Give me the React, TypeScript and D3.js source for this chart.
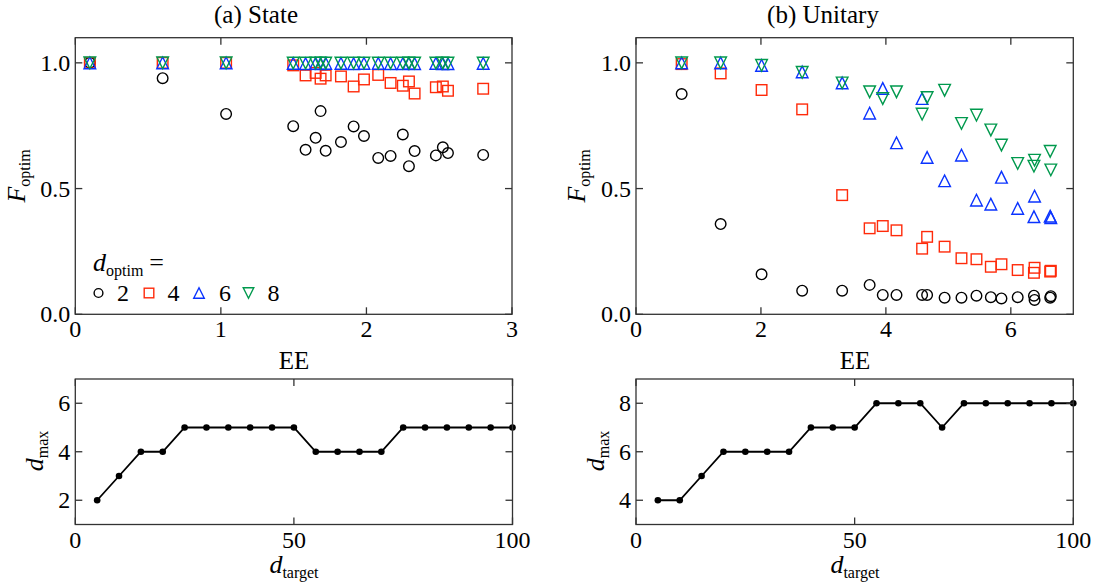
import React from "react";
import * as d3 from "d3";

// (a) State: EE values and optimised fidelity per d_optim
const stateEE = [0.1, 0.6, 1.036, 1.497, 1.582, 1.651, 1.685, 1.72, 1.825, 1.912, 1.983, 2.081, 2.166, 2.25, 2.292, 2.331, 2.477, 2.525, 2.56, 2.802];
const stateF2 = [1.0, 0.939, 0.797, 0.748, 0.654, 0.702, 0.808, 0.65, 0.685, 0.747, 0.709, 0.622, 0.63, 0.715, 0.589, 0.649, 0.632, 0.664, 0.641, 0.634];
const stateF4 = [1.0, 1.0, 1.0, 0.99, 0.95, 0.96, 0.937, 0.95, 0.946, 0.906, 0.934, 0.952, 0.92, 0.909, 0.926, 0.878, 0.903, 0.906, 0.889, 0.897];
const stateF6 = [1.0, 1.0, 1.0, 0.998, 0.997, 0.998, 0.997, 0.998, 0.998, 0.997, 0.998, 0.998, 0.997, 0.997, 0.998, 0.997, 0.998, 0.997, 0.997, 0.998];
const stateF8 = [1.0, 1.0, 1.0, 0.999, 0.999, 0.999, 0.999, 0.999, 0.999, 0.999, 0.999, 0.999, 0.999, 0.999, 0.999, 0.999, 0.999, 0.999, 0.999, 0.999];

// (b) Unitary
const unitEE = [0.731, 1.355, 2.01, 2.66, 3.3, 3.74, 3.95, 4.17, 4.58, 4.66, 4.94, 5.21, 5.45, 5.68, 5.85, 6.11, 6.37, 6.38, 6.63, 6.64];
const unitF2 = [0.876, 0.359, 0.159, 0.094, 0.094, 0.117, 0.077, 0.077, 0.077, 0.077, 0.066, 0.066, 0.074, 0.068, 0.063, 0.068, 0.074, 0.057, 0.066, 0.072];
const unitF4 = [0.995, 0.958, 0.892, 0.815, 0.474, 0.342, 0.351, 0.334, 0.261, 0.308, 0.269, 0.223, 0.219, 0.189, 0.199, 0.176, 0.165, 0.185, 0.17, 0.173];
const unitF6 = [1.0, 1.0, 0.99, 0.964, 0.92, 0.8, 0.898, 0.682, 0.858, 0.624, 0.531, 0.633, 0.454, 0.438, 0.545, 0.421, 0.388, 0.47, 0.39, 0.384];
const unitF8 = [1.0, 1.0, 0.99, 0.962, 0.92, 0.885, 0.858, 0.885, 0.796, 0.862, 0.891, 0.759, 0.792, 0.733, 0.673, 0.6, 0.589, 0.613, 0.648, 0.574];

// bottom row: d_max vs d_target
const dTarget = [5, 10, 15, 20, 25, 30, 35, 40, 45, 50, 55, 60, 65, 70, 75, 80, 85, 90, 95, 100];
const dMaxState = [2, 3, 4, 4, 5, 5, 5, 5, 5, 5, 4, 4, 4, 4, 5, 5, 5, 5, 5, 5];
const dMaxUnit = [4, 4, 5, 6, 6, 6, 6, 7, 7, 7, 8, 8, 8, 7, 8, 8, 8, 8, 8, 8];

const dOptim = ["2", "4", "6", "8"];
const colors = ["#000000", "#ff2a0a", "#0a33ff", "#00994d"];
const shapes = ["circle", "square", "up", "down"];

// no serif face in the sandbox, this falls back to whatever is there
const FONT = "'Liberation Serif', 'DejaVu Serif', Times, serif";
const AX = "#333";

function Marker({ shape, cx, cy, color, s = 5.3 }: any) {
  const common = { fill: "none", stroke: color, strokeWidth: 1.4 };
  if (shape === "circle") return <circle cx={cx} cy={cy} r={s} {...common} />;
  if (shape === "square") return <rect x={cx - s} y={cy - s} width={2 * s} height={2 * s} {...common} />;
  const t = s * 1.1;
  if (shape === "up")
    return <path d={`M${cx},${cy - t}L${cx + t},${cy + t}L${cx - t},${cy + t}Z`} {...common} />;
  return <path d={`M${cx},${cy + t}L${cx + t},${cy - t}L${cx - t},${cy - t}Z`} {...common} />;
}

function Frame({ x, y, xTicks, yTicks, yFmt }: any) {
  const [x0, x1] = x.range();
  const [y0, y1] = y.range();
  const tl = 7;
  return (
    <g>
      <rect x={x0} y={y1} width={x1 - x0} height={y0 - y1} fill="none" stroke={AX} strokeWidth={1.3} />
      {xTicks.map((t: number) => (
        <g key={"x" + t}>
          <line x1={x(t)} x2={x(t)} y1={y0} y2={y0 - tl} stroke={AX} strokeWidth={1.3} />
          <line x1={x(t)} x2={x(t)} y1={y1} y2={y1 + tl} stroke={AX} strokeWidth={1.3} />
          <text x={x(t)} y={y0 + 23} textAnchor="middle" fontSize={24}>{t}</text>
        </g>
      ))}
      {yTicks.map((t: number) => (
        <g key={"y" + t}>
          <line x1={x0} x2={x0 + tl} y1={y(t)} y2={y(t)} stroke={AX} strokeWidth={1.3} />
          <line x1={x1} x2={x1 - tl} y1={y(t)} y2={y(t)} stroke={AX} strokeWidth={1.3} />
          <text x={x0 - 5} y={y(t) + 8} textAnchor="end" fontSize={24}>{yFmt(t)}</text>
        </g>
      ))}
    </g>
  );
}

function Scatter({ x, y, ee, series }: any) {
  return (
    <g>
      {series.map((vals: number[], si: number) =>
        vals.map((v, i) => (
          <Marker key={si + "-" + i} shape={shapes[si]} cx={x(ee[i])} cy={y(v)} color={colors[si]} />
        ))
      )}
    </g>
  );
}

function StepLine({ x, y, vals }: any) {
  const line = d3.line<number>().x((_, i) => x(dTarget[i])).y((d) => y(d));
  return (
    <g>
      <path d={line(vals) || ""} fill="none" stroke="#000" strokeWidth={1.8} />
      {vals.map((v: number, i: number) => (
        <circle key={i} cx={x(dTarget[i])} cy={y(v)} r={3.3} fill="#000" />
      ))}
    </g>
  );
}

function SubLabel({ main, sub, transform, x, y }: any) {
  return (
    <text transform={transform} x={x} y={y} textAnchor="middle" fontSize={26}>
      <tspan fontStyle="italic">{main}</tspan>
      <tspan fontSize={16} dy={5}>{sub}</tspan>
    </text>
  );
}

export default function App() {
  const yF = d3.scaleLinear().domain([0, 1.1]).range([314.3, 37.7]);
  const xS = d3.scaleLinear().domain([0, 3]).range([75.3, 512]);
  const xU = d3.scaleLinear().domain([0, 7]).range([636, 1073.3]);
  const xBL = d3.scaleLinear().domain([0, 100]).range([75.3, 512.5]);
  const xBR = d3.scaleLinear().domain([0, 100]).range([636, 1073.3]);
  const yBL = d3.scaleLinear().domain([1, 7]).range([524.5, 379]);
  const yBR = d3.scaleLinear().domain([3, 9]).range([524.5, 379]);
  const f1 = d3.format(".1f");
  const f0 = (t: number) => String(t);

  const legendX = [98.5, 149, 199, 248.5];
  const legendNumX = [123, 173.5, 225, 273.5];

  return (
    <svg
      width={1096}
      height={587}
      style={{ position: "absolute", left: 0, top: 0, background: "#fff", fontFamily: FONT }}
      fill="#000"
    >
      <rect width={1096} height={587} fill="#fff" />
      <text x={256} y={23} textAnchor="middle" fontSize={25}>(a) State</text>
      <text x={823} y={23} textAnchor="middle" fontSize={25}>(b) Unitary</text>

      {/* top left */}
      <Scatter x={xS} y={yF} ee={stateEE} series={[stateF2, stateF4, stateF6, stateF8]} />
      <Frame x={xS} y={yF} xTicks={[0, 1, 2, 3]} yTicks={[0, 0.5, 1]} yFmt={f1} />
      <SubLabel main="F" sub="optim" transform="translate(25,176) rotate(-90)" x={0} y={0} />
      <text x={93} y={271} fontSize={26}>
        <tspan fontStyle="italic">d</tspan>
        <tspan fontSize={16} dy={5}>optim</tspan>
        <tspan dy={-5} dx={6}>=</tspan>
      </text>
      {dOptim.map((d, i) => (
        <g key={d}>
          <Marker shape={shapes[i]} cx={legendX[i]} cy={293} color={colors[i]} s={i === 0 ? 4.4 : 4.8} />
          <text x={legendNumX[i]} y={301} textAnchor="middle" fontSize={24}>{d}</text>
        </g>
      ))}

      {/* top right */}
      <Scatter x={xU} y={yF} ee={unitEE} series={[unitF2, unitF4, unitF6, unitF8]} />
      <Frame x={xU} y={yF} xTicks={[0, 2, 4, 6]} yTicks={[0, 0.5, 1]} yFmt={f1} />
      <SubLabel main="F" sub="optim" transform="translate(585,176) rotate(-90)" x={0} y={0} />

      {/* bottom */}
      <text x={294} y={368.5} textAnchor="middle" fontSize={25}>EE</text>
      <text x={855} y={368.5} textAnchor="middle" fontSize={25}>EE</text>
      <StepLine x={xBL} y={yBL} vals={dMaxState} />
      <Frame x={xBL} y={yBL} xTicks={[0, 50, 100]} yTicks={[2, 4, 6]} yFmt={f0} />
      <StepLine x={xBR} y={yBR} vals={dMaxUnit} />
      <Frame x={xBR} y={yBR} xTicks={[0, 50, 100]} yTicks={[4, 6, 8]} yFmt={f0} />
      <SubLabel main="d" sub="max" transform="translate(43,451) rotate(-90)" x={0} y={0} />
      <SubLabel main="d" sub="max" transform="translate(604,451) rotate(-90)" x={0} y={0} />
      <SubLabel main="d" sub="target" x={294} y={573} />
      <SubLabel main="d" sub="target" x={855} y={573} />
    </svg>
  );
}
